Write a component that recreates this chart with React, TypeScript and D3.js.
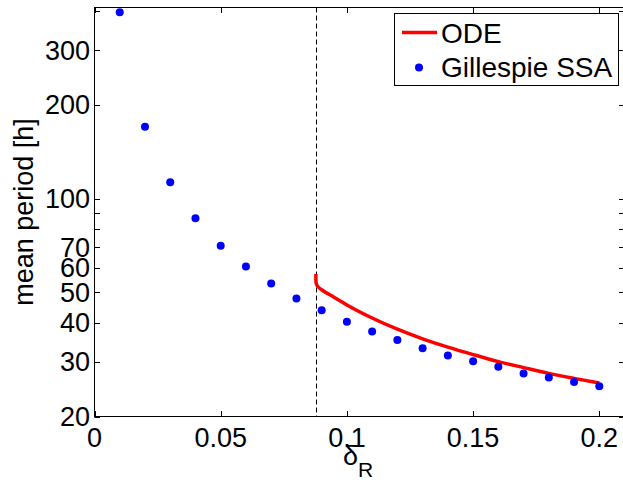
import React from "react";
import * as d3 from "d3";

const ssaDelta = [0.01, 0.02, 0.03, 0.04, 0.05, 0.06, 0.07, 0.08, 0.09, 0.1, 0.11, 0.12, 0.13, 0.14, 0.15, 0.16, 0.17, 0.18, 0.19, 0.2];
const ssaPeriod = [396, 170, 112.7, 86.4, 70.6, 60.5, 53.4, 47.8, 43.8, 40.3, 37.5, 35.2, 33.1, 31.4, 30.1, 28.9, 27.5, 26.7, 25.8, 25.0];

const odeDelta = [0.0877, 0.08772, 0.0878, 0.0882, 0.0888, 0.09, 0.095, 0.1, 0.11, 0.12, 0.13, 0.14, 0.15, 0.16, 0.17, 0.18, 0.19, 0.2];
const odePeriod = [57.3, 55.0, 53.6, 52.6, 51.9, 51.0, 48.2, 45.6, 41.4, 38.1, 35.5, 33.4, 31.6, 30.0, 28.7, 27.5, 26.5, 25.6];

const hopfDelta = 0.0877;

const xTicks = [0, 0.05, 0.1, 0.15, 0.2];
const xTickLabels = ["0", "0.05", "0.1", "0.15", "0.2"];
const yTicks = [20, 30, 40, 50, 60, 70, 100, 200, 300];
const yMinorTicks = [80, 90, 400];

const legendLabels = ["ODE", "Gillespie SSA"];

const FONT = "'Liberation Sans', Arial, Helvetica, sans-serif";

export default function App() {
  const W = 623, H = 480;
  const left = 94.5, top = 7.5, bottom = 416.5;
  const x = d3.scaleLinear().domain([0, 0.21]).range([left, left + 0.21 * 2524]);
  const y = d3.scaleLog().domain([20, 410]).range([bottom, top]);
  const right = x(0.21);
  const tl = 5.5;
  const fs = 27;

  const line = d3
    .line<number>()
    .x((_, i) => x(odeDelta[i]))
    .y((d) => y(d))
    .curve(d3.curveMonotoneX);

  const px = (v: number) => Math.round(v) + 0.5;

  return (
    <svg width={W} height={H} style={{ position: "absolute", left: 0, top: 0 }} fontFamily={FONT}>
      <rect x={0} y={0} width={W} height={H} fill="#fff" />
      {/* dashed line */}
      <line x1={px(x(hopfDelta))} x2={px(x(hopfDelta))} y1={top} y2={bottom} stroke="#000" strokeWidth={1} strokeDasharray="5,3" />
      {/* ODE */}
      <path d={line(odePeriod) || ""} fill="none" stroke="#ff0000" strokeWidth={3.5} strokeLinejoin="round" />
      {/* SSA */}
      {ssaDelta.map((d, i) => (
        <circle key={i} cx={x(d)} cy={y(ssaPeriod[i])} r={4} fill="#0000ff" />
      ))}
      {/* frame */}
      <rect x={left} y={top} width={right - left} height={bottom - top} fill="none" stroke="#000" strokeWidth={1} />
      {/* x ticks */}
      {xTicks.map((t, i) => (
        <g key={"x" + i}>
          <line x1={px(x(t))} x2={px(x(t))} y1={bottom} y2={bottom - tl} stroke="#000" />
          <line x1={px(x(t))} x2={px(x(t))} y1={top} y2={top + tl} stroke="#000" />
          <text x={x(t)} y={447} fontSize={fs} textAnchor="middle" fill="#000">
            {xTickLabels[i]}
          </text>
        </g>
      ))}
      {/* y ticks */}
      {yTicks.map((t, i) => (
        <g key={"y" + i}>
          <line x1={left} x2={left + tl} y1={px(y(t))} y2={px(y(t))} stroke="#000" />
          <line x1={right} x2={right - tl} y1={px(y(t))} y2={px(y(t))} stroke="#000" />
          <text x={90} y={y(t)} dy="0.36em" fontSize={fs} textAnchor="end" fill="#000">
            {String(t)}
          </text>
        </g>
      ))}
      {yMinorTicks.map((t, i) => (
        <g key={"ym" + i}>
          <line x1={left} x2={left + tl} y1={px(y(t))} y2={px(y(t))} stroke="#000" />
          <line x1={right} x2={right - tl} y1={px(y(t))} y2={px(y(t))} stroke="#000" />
        </g>
      ))}
      {/* x label */}
      <text x={358} y={465} fontSize={fs} textAnchor="middle" fill="#000">
        <tspan>δ</tspan>
        <tspan fontSize={21} dy={12}>R</tspan>
      </text>
      {/* y label */}
      <text transform={`translate(33,${(top + bottom) / 2}) rotate(-90)`} fontSize={fs} textAnchor="middle" fill="#000">
        mean period [h]
      </text>
      {/* legend */}
      <rect x={394.5} y={13.5} width={224} height={72} fill="#fff" stroke="#000" strokeWidth={1} />
      <line x1={402} x2={437} y1={32.5} y2={32.5} stroke="#ff0000" strokeWidth={3.5} />
      <text x={441} y={43} fontSize={28} fill="#000">{legendLabels[0]}</text>
      <circle cx={419} cy={67.5} r={4} fill="#0000ff" />
      <text x={441} y={77} fontSize={28} fill="#000">{legendLabels[1]}</text>
    </svg>
  );
}
